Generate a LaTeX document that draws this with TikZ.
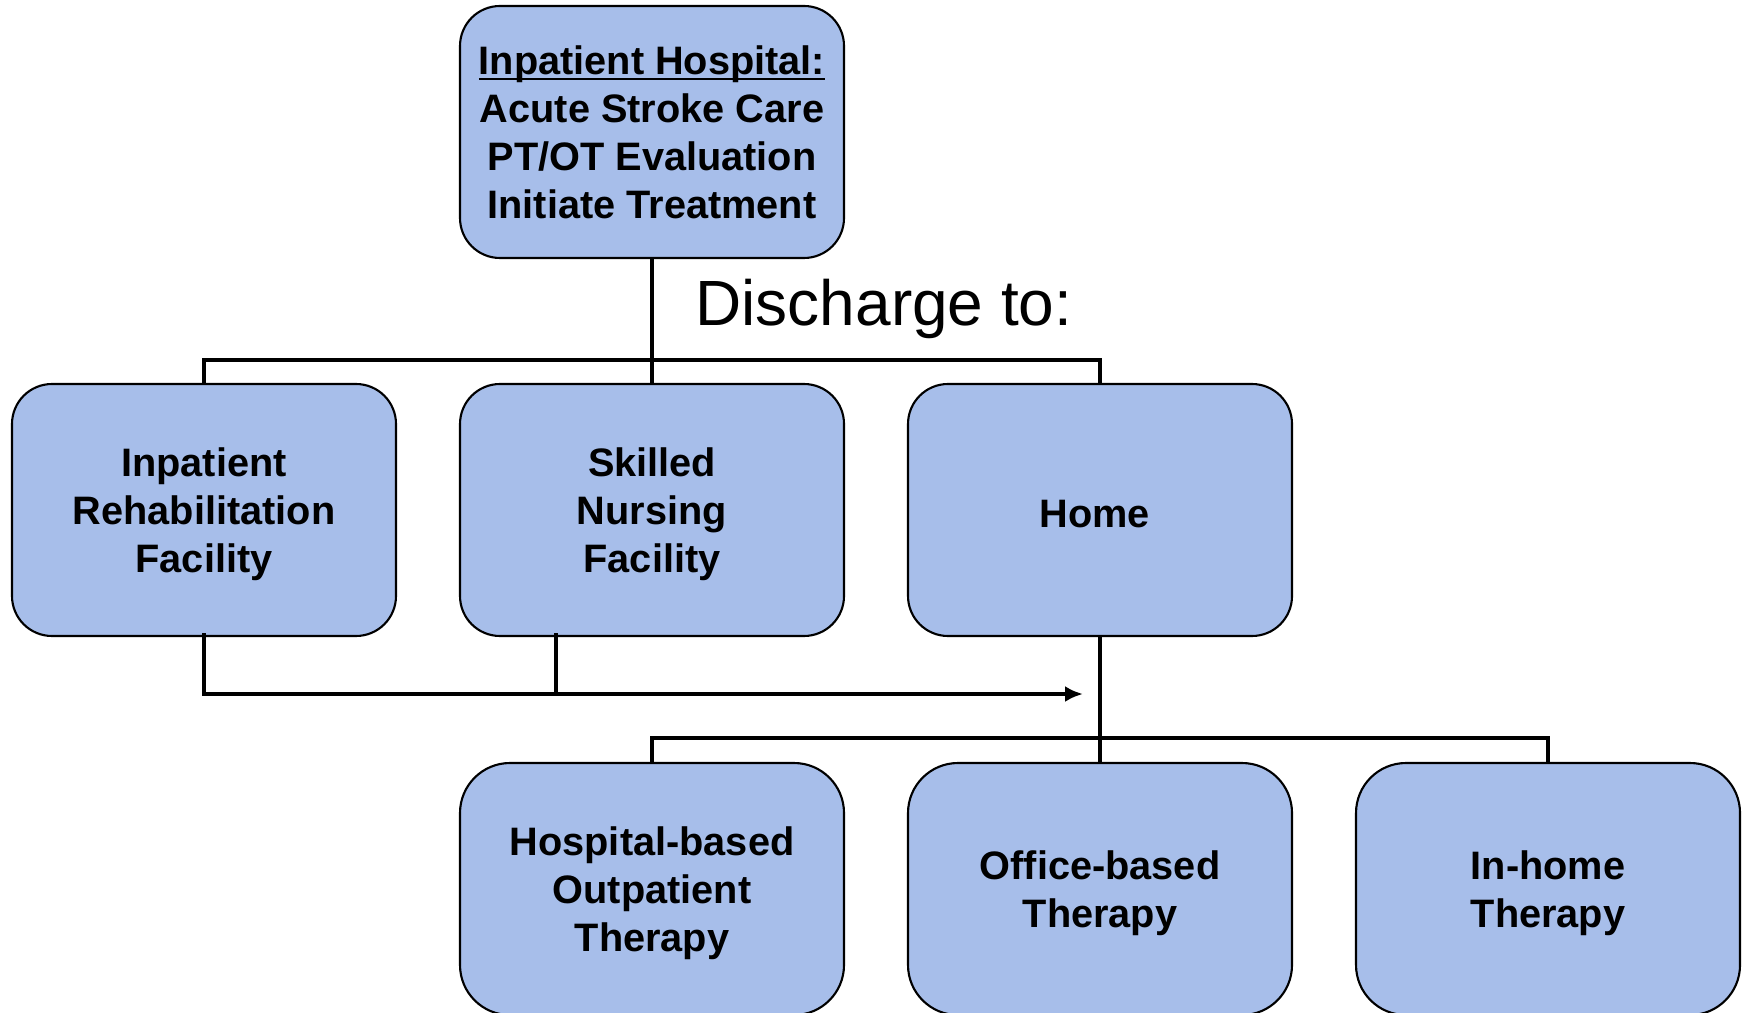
\documentclass[tikz,border=0pt]{standalone}
\usepackage{fontspec}
\setmainfont{Liberation Sans}
\usepackage{tikz}
\usetikzlibrary{
  arrows.meta,
  positioning,
  calc
}
\definecolor{BoxBlue}{HTML}{A7BEEA}
\newcommand\tightul[1]{\underline{\smash{#1}}\vphantom{#1}}
\tikzset{
  carebox/.style={
    draw=black,
    line width=0.6pt,
    fill=BoxBlue,
    rounded corners=4mm,
    align=center,
    minimum width=38.4mm,
    minimum height=25.2mm,
    inner sep=0pt,
    text depth=-0.8mm,
    font=\fontsize{11.3}{13.7}\selectfont\bfseries
  },
  tallbox/.style={
    carebox,
    rounded corners=5mm
  },
  connection/.style={
    line width=1.35pt
  },
  flow/.style={
    -{Latex[length=1.8mm,width=1.6mm]},
    line width=1.05pt
  }
}
\begin{document}
\begin{tikzpicture}[x=0.1mm,y=-0.1mm]

  \useasboundingbox (0,0) rectangle (1746,1013);
  \clip (0,0) rectangle (1746,1013);

  % first stay
  \node[carebox] (hosp) at (652,132) {
    \tightul{Inpatient Hospital:}\\
    Acute Stroke Care\\
    PT/OT Evaluation\\
    Initiate Treatment
  };

  \node[font=\fontsize{18.2}{22}\selectfont, anchor=base]
    (discharge) at (884,326) {Discharge to:};

  % discharge options
  \node[carebox] (irf) at (204,510) {
    Inpatient\\
    Rehabilitation\\
    Facility
  };
  \node[carebox] (snf) at (652,510) {
    Skilled\\
    Nursing\\
    Facility
  };
  \node[carebox, text depth=0pt, text height=3.5mm] (home) at (1100,510) {
    Home
  };

  % therapy at home
  \node[tallbox] (hopt) at (652,889) {
    Hospital-based\\
    Outpatient\\
    Therapy
  };
  \node[tallbox] (office) at (1100,889) {
    Office-based\\
    Therapy
  };
  \node[tallbox] (inhome) at (1548,889) {
    In-home\\
    Therapy
  };

  \coordinate (split) at (652,360);
  \coordinate (merge) at (1083,694);
  \coordinate (split2) at (1100,738);
  \coordinate (snfdrop) at ($(snf.south)+(-96,-4)$);

  \draw[connection] (hosp.south) -- (snf.north);
  \draw[connection] (irf.north) |- (split) -| (home.north);

  \draw[flow] ($(irf.south)+(0,-4)$) |- (merge);
  \draw[flow, -] (snfdrop) -- (snfdrop |- merge);

  \draw[connection] (home.south) -- (office.north);
  \draw[connection] (hopt.north) |- (split2) -| (inhome.north);

\end{tikzpicture}
\end{document}
